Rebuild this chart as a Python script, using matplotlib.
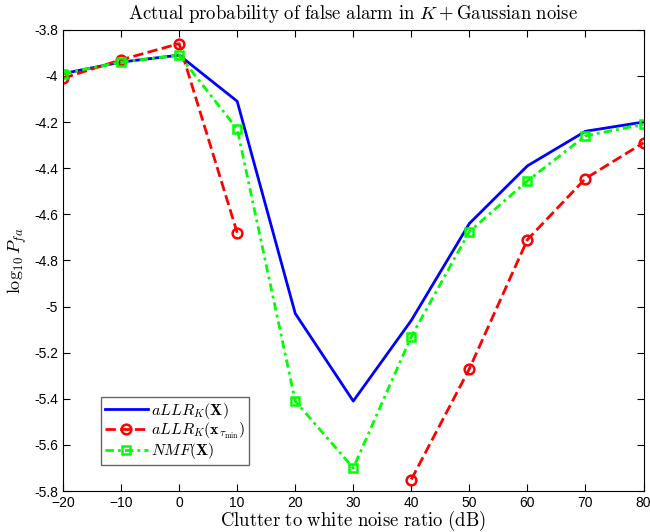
import numpy as np
import matplotlib.pyplot as plt

plt.rcParams['mathtext.fontset'] = 'cm'
plt.rcParams['font.family'] = ['Liberation Sans', 'DejaVu Sans']

cnr = [-20, -10, 0, 10, 20, 30, 40, 50, 60, 70, 80]
allr_X = [-3.99, -3.94, -3.91, -4.11, -5.03, -5.41, -5.06, -4.64, -4.39, -4.24, -4.20]
allr_x = [-4.01, -3.93, -3.86, -4.68, np.nan, np.nan, -5.75, -5.27, -4.71, -4.445, -4.29]
nmf_X = [-3.99, -3.94, -3.91, -4.23, -5.41, -5.70, -5.13, -4.675, -4.455, -4.26, -4.21]

fig = plt.figure(figsize=(6.5, 5.32), dpi=100)
ax = fig.add_axes([0.097, 0.077, 0.893, 0.867])

ax.plot(cnr, allr_X, '-', color='blue', lw=2, label=r'$aLLR_K(\mathbf{X})$')
ax.plot(cnr, allr_x, '--', color='red', lw=2, marker='o', ms=7, mfc='none', mew=1.8,
        label=r'$aLLR_K(\mathbf{x}_{\tau_{\min}})$')
ax.plot(cnr, nmf_X, '-.', color='#00ff00', lw=2, marker='s', ms=5.5, mfc='none', mew=1.8,
        dashes=(3, 1.5, 1, 1.5), label=r'$NMF(\mathbf{X})$')

ax.set_xlim(-20, 80)
ax.set_ylim(-5.8, -3.8)
ax.set_xticks(cnr)
ax.set_yticks(np.arange(-5.8, -3.79, 0.2))
ax.set_yticklabels(['%g' % round(v, 1) for v in np.arange(-5.8, -3.79, 0.2)])
ax.tick_params(direction='in', top=True, right=True, labelsize=10, length=5)

ax.set_title(r'$\mathrm{Actual\ probability\ of\ false\ alarm\ in\ }K+\mathrm{Gaussian\ noise}$',
             fontsize=13.5, pad=8)
ax.set_xlabel(r'$\mathrm{Clutter\ to\ white\ noise\ ratio\ (dB)}$', fontsize=13.5, labelpad=-1)
ax.set_ylabel(r'$\log_{10}P_{fa}$', fontsize=13, labelpad=4)

leg = ax.legend(loc='lower left', bbox_to_anchor=(0.065, 0.056), fontsize=11.5, fancybox=False,
                edgecolor='0.4', framealpha=1, borderpad=0.25, labelspacing=0.0, handlelength=2.7,
                handletextpad=0.2, borderaxespad=0)
leg.get_frame().set_linewidth(1.0)

fig.savefig('out.png', dpi=100)
